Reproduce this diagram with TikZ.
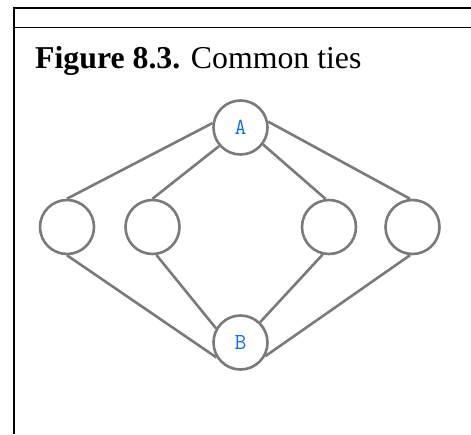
\documentclass[tikz,border=0pt]{standalone}
\usepackage{fontspec}
\setmainfont{Liberation Serif}
\usepackage{xcolor}
\definecolor{tiegray}{RGB}{122,122,122}
\definecolor{labelblue}{RGB}{26,108,240}
\usetikzlibrary{positioning}

\begin{document}
\begin{tikzpicture}[
    x=1pt, y=-1pt,
    actor/.style={circle, draw=tiegray, line width=2.6pt, fill=white, minimum size=54pt, inner sep=0pt, font=\ttfamily\fontsize{23}{24}\selectfont, text=labelblue},
    tie/.style={draw=tiegray, line width=2.6pt},
    frame/.style={draw=black, line width=1.6pt}
]
\useasboundingbox (0,0) rectangle (471,434);

% Frame and title
\draw[frame] (14,434) -- (14,8) -- (471,8);
\draw[frame] (14,27.5) -- (471,27.5);
\node[anchor=base west, inner sep=0pt, font=\fontsize{31.8}{36}\selectfont] (title) at (35,68)
    {\textbf{Figure 8.3.} Common ties};

% Actors
\node[actor] (a) at (240.5,127.5) {A};
\node[actor] (b) at (240.5,342.5) {B};
\node[actor] (n1) at (67,227) {};
\node[actor] (n2) at (152.5,227) {};
\node[actor] (n3) at (329,227) {};
\node[actor] (n4) at (412.5,227) {};

% Ties
\draw[tie] (a.171) -- (n1.north);
\draw[tie] (a.221) -- (n2.north);
\draw[tie] (a.-37) -- (n3.97);
\draw[tie] (a.12) -- (n4.95);
\draw[tie] (n1.south) -- (b.212);
\draw[tie] (n2.-82) -- (b.150);
\draw[tie] (n3.-103) -- (b.46);
\draw[tie] (n4.-95) -- (b.331);

\end{tikzpicture}
\end{document}
